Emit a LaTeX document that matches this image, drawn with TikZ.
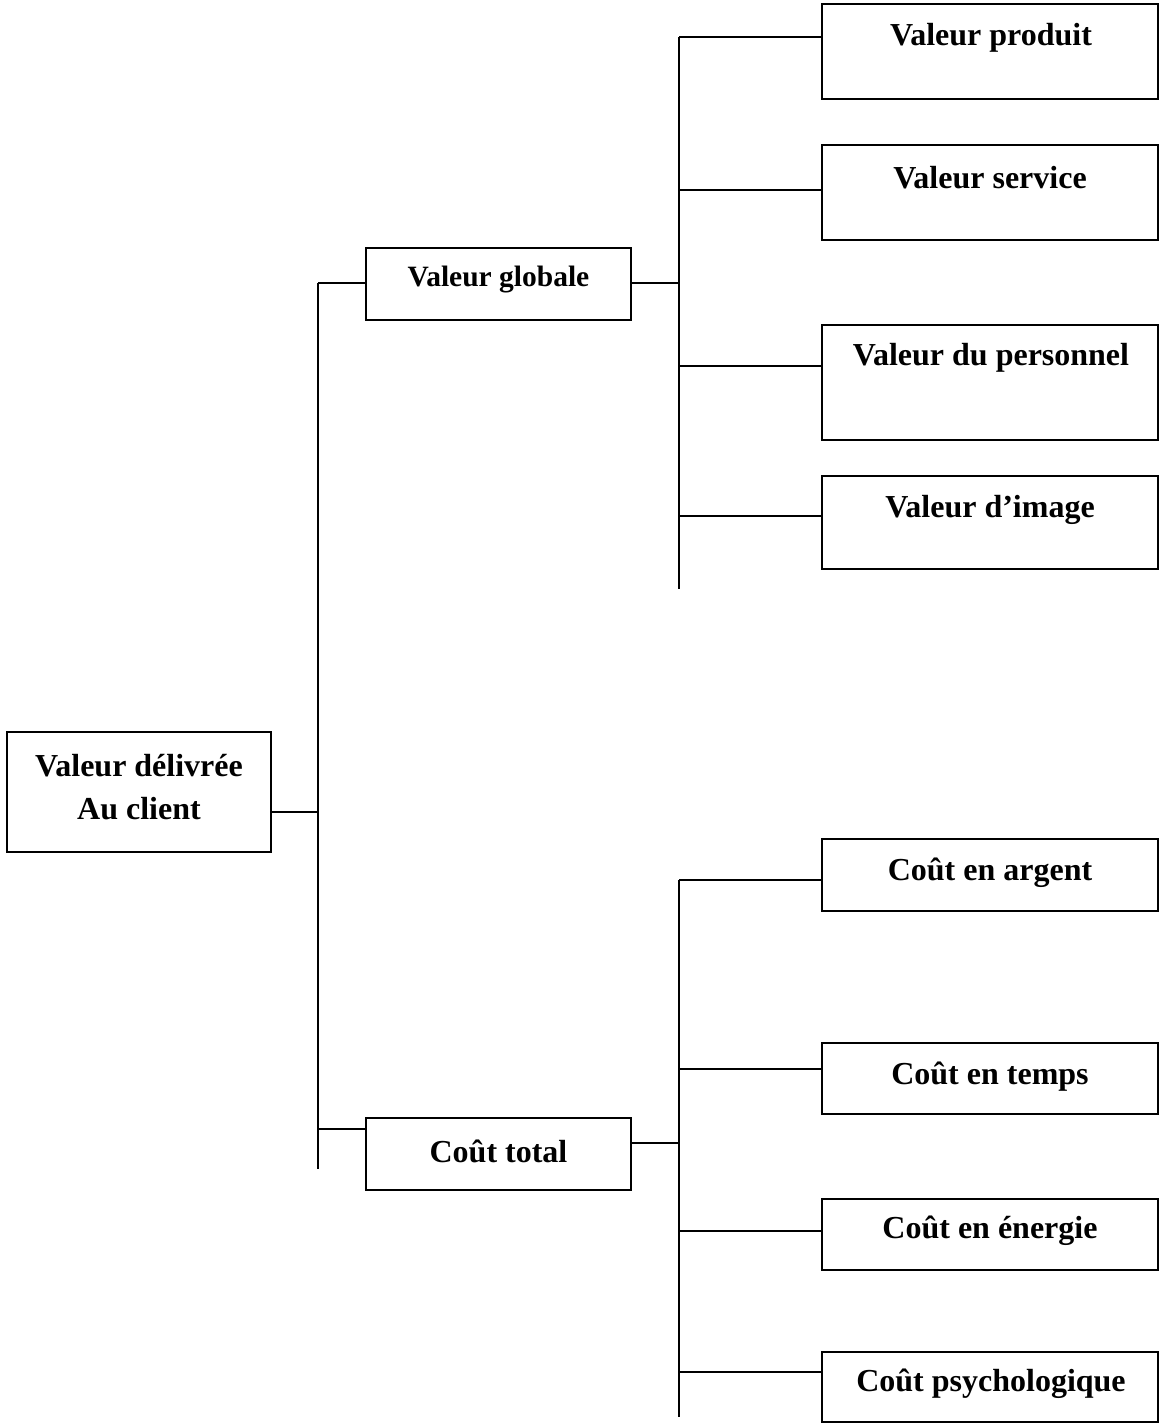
\documentclass[tikz,border=0pt]{standalone}
\usepackage{fontspec}
\setmainfont{Liberation Serif}
\begin{document}
\begin{tikzpicture}[x=1pt,y=-1pt,
  box/.style={draw,line width=1.6pt,inner sep=0pt,outer sep=0pt},
  lbl/.style={inner sep=0pt,font=\fontsize{32}{43}\selectfont\bfseries,align=center},
  small lbl/.style={lbl,font=\fontsize{29.5}{40}\selectfont\bfseries},
  link/.style={line width=1.6pt}]
\useasboundingbox (0,0) rectangle (1160,1423);

% root box
\node[box,minimum width=264pt,minimum height=120pt] (root) at (139,792) {};
\node[lbl] (rootT) at (139,787) {Valeur délivrée\\Au client};

% second level
\node[box,minimum width=265pt,minimum height=72pt] (vg) at (498.5,284) {};
\node[small lbl] (vgT) at (498.5,280) {Valeur globale};
\node[box,minimum width=265pt,minimum height=72pt] (ct) at (498.5,1154) {};
\node[lbl] (ctT) at (498.5,1151) {Coût total};

% value components
\node[box,minimum width=336pt,minimum height=95pt] (vp) at (990,51.5) {};
\node[lbl] (vpT) at (991,38) {Valeur produit};
\node[box,minimum width=336pt,minimum height=95pt] (vs) at (990,192.5) {};
\node[lbl] (vsT) at (990,178) {Valeur service};
\node[box,minimum width=336pt,minimum height=115pt] (vd) at (990,382.5) {};
\node[lbl] (vdT) at (991,358) {Valeur du personnel};
\node[box,minimum width=336pt,minimum height=93pt] (vi) at (990,522.5) {};
\node[lbl] (viT) at (990,510) {Valeur d’image};

% cost components
\node[box,minimum width=336pt,minimum height=72pt] (ca) at (990,875) {};
\node[lbl] (caT) at (990,873) {Coût en argent};
\node[box,minimum width=336pt,minimum height=71pt] (cte) at (990,1078.5) {};
\node[lbl] (cteT) at (990,1077) {Coût en temps};
\node[box,minimum width=336pt,minimum height=71pt] (ce) at (990,1234.5) {};
\node[lbl] (ceT) at (990,1231) {Coût en énergie};
\node[box,minimum width=336pt,minimum height=70pt] (cp) at (990,1387) {};
\node[lbl] (cpT) at (991,1384) {Coût psychologique};

% trunk end points
\coordinate (t0a) at (318,283);
\coordinate (t0b) at (318,1169);
\coordinate (t0c) at (318,1129);
\coordinate (t0r) at (318,812);
\coordinate (t1a) at (679,37);
\coordinate (t1b) at (679,589);
\coordinate (t1c) at (679,190);
\coordinate (t1d) at (679,366);
\coordinate (t1e) at (679,516);
\coordinate (t1g) at (679,283);
\coordinate (t2a) at (679,880);
\coordinate (t2b) at (679,1417);
\coordinate (t2c) at (679,1069);
\coordinate (t2d) at (679,1231);
\coordinate (t2e) at (679,1372);
\coordinate (t2t) at (679,1143);

% main trunk
\draw[link] (t0a) -- (t0b);
\draw[link] (root.east |- t0r) -- (t0r);
\draw[link] (t0a) -- (t0a -| vg.west);
\draw[link] (t0c) -- (t0c -| ct.west);

% value trunk
\draw[link] (t1a) -- (t1b);
\draw[link] (vg.east |- t1g) -- (t1g);
\draw[link] (t1a) -- (t1a -| vp.west);
\draw[link] (t1c) -- (t1c -| vs.west);
\draw[link] (t1d) -- (t1d -| vd.west);
\draw[link] (t1e) -- (t1e -| vi.west);

% cost trunk
\draw[link] (t2a) -- (t2b);
\draw[link] (ct.east |- t2t) -- (t2t);
\draw[link] (t2a) -- (t2a -| ca.west);
\draw[link] (t2c) -- (t2c -| cte.west);
\draw[link] (t2d) -- (t2d -| ce.west);
\draw[link] (t2e) -- (t2e -| cp.west);
\end{tikzpicture}
\end{document}
